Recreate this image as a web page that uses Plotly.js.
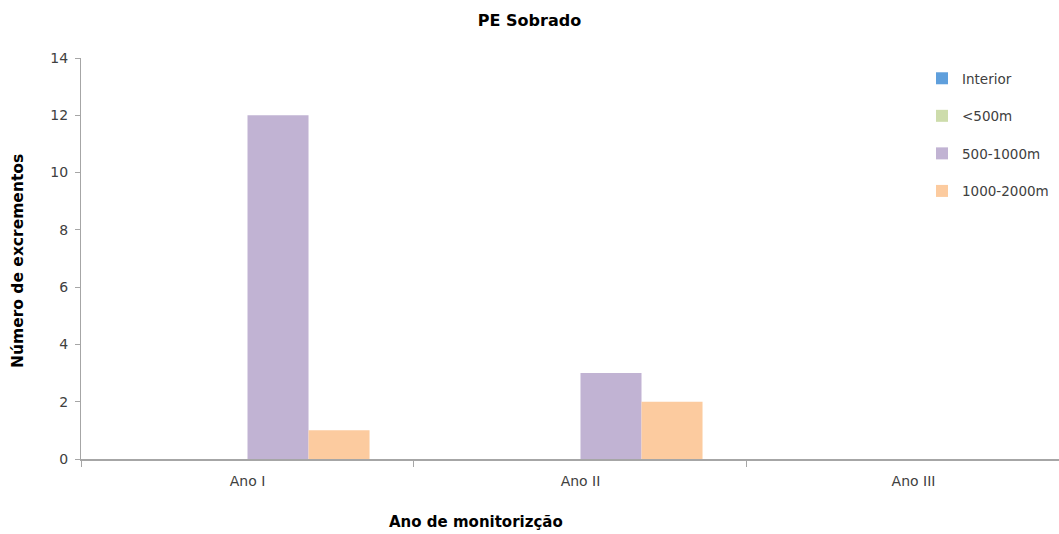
<!DOCTYPE html>
<html>
<head>
<meta charset="utf-8">
<script src="https://cdn.plot.ly/plotly-3.0.1.min.js"></script>
<style>html,body{margin:0;padding:0;overflow:hidden;background:#fff}</style>
</head>
<body>
<div id="chart" style="width:1059px;height:534px"></div>
<script>
const categories = ["Ano I", "Ano II", "Ano III"];
const seriesNames = ["Interior", "<500m", "500-1000m", "1000-2000m"];
const interior = [0, 0, 0];
const lt500 = [0, 0, 0];
const m500_1000 = [12, 3, 0];
const m1000_2000 = [1, 2, 0];
const colors = ["#5f9fdc", "#cddcab", "#c1b3d3", "#fccb9f"];
const xTitle = "Ano de monitorizção";
const yTitle = "Número de excrementos";

const values = [interior, lt500, m500_1000, m1000_2000];
const FONT = "DejaVu Sans, sans-serif";
const traces = values.map((v, i) => ({
  type: "bar",
  name: seriesNames[i],
  x: categories,
  y: v,
  marker: {color: colors[i], line: {width: 0}},
  legendgroup: "g" + i,
  hoverinfo: "x+y+name"
}));

const W = 1059, H = 534, L = 81, T = 58, B = 75;
const PW = W - L, PH = H - T - B;

const layout = {
  width: W, height: H,
  margin: {l: L, r: 0, t: T, b: B, autoexpand: false},
  paper_bgcolor: "#fff", plot_bgcolor: "#fff",
  font: {family: FONT, size: 13, color: "#404040"},
  title: {text: "<b>PE Sobrado</b>", x: 553, xref: "container", xanchor: "center", y: 1 - 20/H, yanchor: "middle", yref: "container",
          font: {family: FONT, size: 16, color: "#000"}},
  barmode: "group",
  bargap: 0.267,
  bargroupgap: 0,
  showlegend: true,
  legend: {x: (922 - L)/PW, xanchor: "left", y: 1 - 5/PH, yanchor: "top", tracegroupgap: 17,
           font: {family: FONT, size: 13.5, color: "#404040"}, bgcolor: "rgba(0,0,0,0)", itemwidth: 30},
  xaxis: {
    type: "category",
    range: [-0.5, 2.437],
    showline: true, linecolor: "#a6a6a6", linewidth: 1.5,
    ticks: "outside", tickson: "boundaries", ticklen: 6, tickcolor: "#a6a6a6", tickwidth: 1,
    ticklabelstandoff: 9,
    showgrid: false, zeroline: false,
    tickfont: {family: FONT, size: 14, color: "#404040"}
  },
  yaxis: {
    range: [0, 14], dtick: 2,
    showline: true, linecolor: "#a6a6a6", linewidth: 1,
    ticks: "outside", ticklen: 5, tickcolor: "#a6a6a6",
    ticklabelstandoff: 4,
    showgrid: false, zeroline: false,
    tickfont: {family: FONT, size: 14, color: "#404040"}
  },
  annotations: [
    {text: "<b>" + xTitle + "</b>", xref: "paper", yref: "paper", x: (476 - L)/PW, y: -(522 - (H - B))/PH,
     xanchor: "center", yanchor: "middle", showarrow: false, font: {family: FONT, size: 15, color: "#000"}},
    {text: "<b>" + yTitle + "</b>", xref: "paper", yref: "paper", x: (18 - L)/PW, y: 1 - (261 - T)/PH,
     xanchor: "center", yanchor: "middle", textangle: -90, showarrow: false, font: {family: FONT, size: 15.5, color: "#000"}}
  ]
};

Plotly.newPlot("chart", traces, layout, {displayModeBar: false, staticPlot: true});
</script>
</body>
</html>
